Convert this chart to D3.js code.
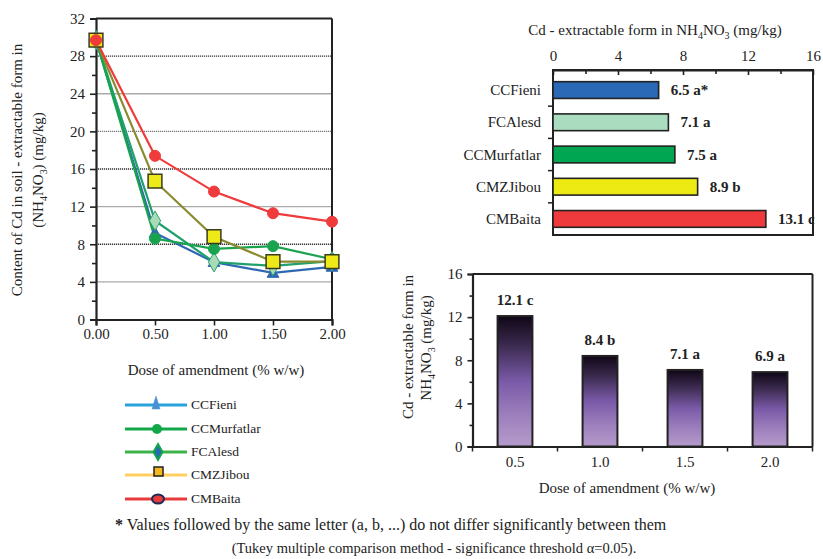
<!DOCTYPE html>
<html><head><meta charset="utf-8">
<script src="https://cdn.jsdelivr.net/npm/d3@7"></script>
<style>body{margin:0;background:#fff}svg, svg text{font-family:"Liberation Serif","DejaVu Serif","Times New Roman",serif !important}</style>
</head><body><svg id="c" width="823" height="559"></svg>
<script>
// ---- data ----
const doses = [0, 0.5, 1.0, 1.5, 2.0];
const doseTicks = ["0.00","0.50","1.00","1.50","2.00"];
const CCFieni = [29.7, 9.2, 6.1, 4.95, 5.6];
const FCAlesd = [29.7, 10.5, 6.1, 5.7, 6.2];
const CCMurfatlar = [29.7, 8.6, 7.5, 7.8, 6.4];
const CMZJibou = [29.7, 14.7, 8.8, 6.15, 6.15];
const CMBaita = [29.7, 17.4, 13.6, 11.3, 10.4];
const lineTicks = [0,4,8,12,16,20,24,28,32];

const hCats = ["CCFieni","FCAlesd","CCMurfatlar","CMZJibou","CMBaita"];
const hVals = [6.5, 7.1, 7.5, 8.9, 13.1];
const hLabels = ["6.5 a*","7.1 a","7.5 a","8.9 b","13.1 c"];
const hTicks = [0,4,8,12,16];

const vCats = ["0.5","1.0","1.5","2.0"];
const vVals = [12.1, 8.4, 7.1, 6.9];
const vLabels = ["12.1 c","8.4 b","7.1 a","6.9 a"];
const vTicks = [0,4,8,12,16];

const legendNames = ["CCFieni","CCMurfatlar","FCAlesd","CMZJibou","CMBaita"];

const FONT = '"Liberation Serif","DejaVu Serif","Times New Roman",serif';
const svg = d3.select("#c");

// ================= LEFT LINE CHART =================
const L = {x0:96, x1:332, y0:319.5, y1:18.5};
const lx = d3.scaleLinear().domain([0,2]).range([L.x0,L.x1]);
const ly = d3.scaleLinear().domain([0,32]).range([L.y0,L.y1]);

const gridStyles = {4:"#aaa",8:"#333",12:"#aaa",16:"#333",20:"#777",24:"#aaa",28:"#333"};
svg.append("g").selectAll("line").data(lineTicks.filter(t=>t>0&&t<32)).join("line")
  .attr("x1",L.x0).attr("x2",L.x1).attr("y1",d=>ly(d)).attr("y2",d=>ly(d))
  .attr("stroke",d=>gridStyles[d]).attr("stroke-width",1.3)
  .attr("stroke-dasharray",d=>gridStyles[d]==="#aaa"?null:"1.2,0.8");

svg.append("line").attr("x1",L.x0).attr("x2",L.x1).attr("y1",L.y1).attr("y2",L.y1).attr("stroke","#222").attr("stroke-width",2);
svg.append("line").attr("x1",L.x1).attr("x2",L.x1).attr("y1",L.y1).attr("y2",L.y0).attr("stroke","#222").attr("stroke-width",2);

svg.append("g").attr("transform",`translate(${L.x0},0)`)
  .call(d3.axisLeft(ly).tickValues(lineTicks).tickSize(6).tickPadding(5).tickFormat(d3.format("d")));
svg.append("g").attr("transform",`translate(${L.x0},0)`)
  .call(d3.axisLeft(ly).tickValues(d3.range(2,32,4)).tickSize(4).tickFormat(""))
  .call(g=>g.select(".domain").remove());
svg.append("g").attr("transform",`translate(0,${L.y0})`)
  .call(d3.axisBottom(lx).tickValues(doses).tickSize(6).tickPadding(3).tickFormat((d,i)=>doseTicks[i]));

const series = [
  {v:CCFieni, line:"#2f68b2", marker:"tri", fill:"#2f68b2", stroke:"#2f68b2"},
  {v:FCAlesd, line:"#1fa06c", marker:"diamond", fill:"#a9dbb8", stroke:"#2fa070"},
  {v:CCMurfatlar, line:"#19a34e", marker:"circle", fill:"#19a34e", stroke:"#19a34e"},
  {v:CMZJibou, line:"#8a8a30", marker:"square", fill:"#eeea18", stroke:"#3a3a20"},
  {v:CMBaita, line:"#ef3b3b", marker:"circle", fill:"#ef3b3b", stroke:"#ef3b3b"}
];
const lineGen = d3.line().x((d,i)=>lx(doses[i])).y(d=>ly(d));
const sym = {tri:d3.symbol(d3.symbolTriangle,60), diamond:d3.symbol(d3.symbolDiamond,110), circle:d3.symbol(d3.symbolCircle,95), square:d3.symbol(d3.symbolSquare,190)};
series.forEach(s=>{
  svg.append("path").attr("d",lineGen(s.v)).attr("fill","none").attr("stroke",s.line).attr("stroke-width",2.2);
});
series.forEach(s=>{
  svg.append("g").selectAll("path").data(s.v).join("path")
    .attr("transform",(d,i)=>`translate(${lx(doses[i])},${ly(d)+(s.marker==="tri"?1:0)})`)
    .attr("d",sym[s.marker]()).attr("fill",s.fill).attr("stroke",s.stroke).attr("stroke-width",s.marker==="square"?1.5:1);
});

const yt = svg.append("text").attr("transform","translate(22,170) rotate(-90)").attr("text-anchor","middle").attr("font-size",15).attr("fill","#222");
yt.append("tspan").text("Content of Cd in soil - extractable form in");
const yt2 = svg.append("text").attr("transform","translate(43,170) rotate(-90)").attr("text-anchor","middle").attr("font-size",15).attr("fill","#222");
yt2.append("tspan").text("(NH");
yt2.append("tspan").attr("font-size",10).attr("dy",4).text("4");
yt2.append("tspan").attr("dy",-4).text("NO");
yt2.append("tspan").attr("font-size",10).attr("dy",4).text("3");
yt2.append("tspan").attr("dy",-4).text(") (mg/kg)");
svg.append("text").attr("x",216).attr("y",375).attr("text-anchor","middle").attr("font-size",15).attr("fill","#222").text("Dose of amendment (% w/w)");

// legend
const legStyles = [
  {line:"#29a3dd", marker:"tri", fill:"#4a90d0", stroke:"#4a90d0"},
  {line:"#12a84a", marker:"circle", fill:"#12a84a", stroke:"#12a84a"},
  {line:"#3cb44a", marker:"diamond", fill:"#2a6ab0", stroke:"#12a84a"},
  {line:"#ffd060", marker:"square", fill:"#f5b820", stroke:"#222"},
  {line:"#e83a3a", marker:"ellipse", fill:"#e83a3a", stroke:"#1a2a5a"}
];
const legY = [405, 429, 452, 475, 499];
const leg = svg.append("g");
legendNames.forEach((n,i)=>{
  const s = legStyles[i], y = legY[i];
  leg.append("line").attr("x1",125).attr("x2",187).attr("y1",y).attr("y2",y).attr("stroke",s.line).attr("stroke-width",3);
  if (s.marker==="ellipse") {
    leg.append("ellipse").attr("cx",158).attr("cy",y).attr("rx",6).attr("ry",4.5).attr("fill",s.fill).attr("stroke",s.stroke).attr("stroke-width",2);
  } else if (s.marker==="diamond") {
    leg.append("path").attr("d","M0,-8L4.5,0L0,8L-4.5,0Z").attr("transform",`translate(158,${y})`).attr("fill",s.fill).attr("stroke",s.stroke).attr("stroke-width",2);
  } else if (s.marker==="tri") {
    leg.append("path").attr("d","M0,-8L4,5L-4,5Z").attr("transform",`translate(156,${y-1})`).attr("fill",s.fill).attr("stroke",s.stroke).attr("stroke-width",0.5);
  } else if (s.marker==="square") {
    leg.append("rect").attr("x",154).attr("y",y-8).attr("width",9).attr("height",9).attr("fill",s.fill).attr("stroke",s.stroke).attr("stroke-width",1.5);
  } else {
    leg.append("circle").attr("cx",157).attr("cy",y).attr("r",5).attr("fill",s.fill);
  }
  leg.append("text").attr("x",191).attr("y",y+4).attr("font-size",13.5).attr("fill","#222").text(n);
});

// ================= TOP RIGHT HORIZONTAL BAR =================
const H = {x0:553, x1:813, y0:70, y1:235};
const hx = d3.scaleLinear().domain([0,16]).range([H.x0,H.x1]);
const hy = d3.scaleBand().domain(hCats).range([73,236]).paddingInner(0.48).paddingOuter(0.27);
const hColors = ["#2b68b6","#aadcc0","#00a651","#ecea12","#ee3a3c"];

const gh = svg.append("g");
gh.append("rect").attr("x",H.x0).attr("y",H.y0).attr("width",H.x1-H.x0).attr("height",H.y1-H.y0).attr("fill","none").attr("stroke","#222").attr("stroke-width",2);
gh.selectAll("rect.bar").data(hVals).join("rect").attr("class","bar")
  .attr("x",H.x0).attr("y",(d,i)=>hy(hCats[i])).attr("width",d=>hx(d)-H.x0).attr("height",hy.bandwidth())
  .attr("fill",(d,i)=>hColors[i]).attr("stroke","#222").attr("stroke-width",1.6);
gh.selectAll("text.val").data(hVals).join("text").attr("class","val")
  .attr("x",d=>hx(d)+12).attr("y",(d,i)=>hy(hCats[i])+hy.bandwidth()/2+5)
  .attr("font-size",15).attr("font-weight","bold").attr("fill","#222").attr("font-family",FONT).text((d,i)=>hLabels[i])
  .each(function(d){
    const w = this.getComputedTextLength();
    const x = Math.min(hx(d)+12, H.x1+3-w);
    d3.select(this).attr("x", Math.max(x, hx(d)+3));
  });
svg.append("g").attr("transform",`translate(0,${H.y0})`)
  .call(d3.axisTop(hx).tickValues(hTicks).tickSizeInner(-5).tickSizeOuter(0).tickPadding(9).tickFormat(d3.format("d")));
svg.append("g").attr("transform",`translate(0,${H.y0})`)
  .call(d3.axisTop(hx).tickValues([2,6,10,14]).tickSizeInner(-4).tickSizeOuter(0).tickFormat(""))
  .call(g=>g.select(".domain").remove());
gh.selectAll("text.cat").data(hCats).join("text").attr("class","cat")
  .attr("x",541).attr("y",d=>hy(d)+hy.bandwidth()/2+5).attr("text-anchor","end")
  .attr("font-size",15).attr("fill","#222").text(d=>d);
const bnds = hCats.slice(1).map(c=>hy(c)-hy.step()*hy.paddingInner()/2);
gh.selectAll("line.bt").data(bnds).join("line").attr("class","bt")
  .attr("x1",H.x0-5).attr("x2",H.x0).attr("y1",d=>d).attr("y2",d=>d).attr("stroke","#222").attr("stroke-width",1.5);
const ht = svg.append("text").attr("x",655).attr("y",35).attr("text-anchor","middle").attr("font-size",15).attr("fill","#222");
ht.append("tspan").text("Cd - extractable form in NH");
ht.append("tspan").attr("font-size",10).attr("dy",4).text("4");
ht.append("tspan").attr("dy",-4).text("NO");
ht.append("tspan").attr("font-size",10).attr("dy",4).text("3");
ht.append("tspan").attr("dy",-4).text(" (mg/kg)");

// ================= BOTTOM RIGHT VERTICAL BAR =================
const V = {x0:472.5, x1:812.5, y0:446.5, y1:274};
const vx = d3.scaleBand().domain(vCats).range([V.x0,V.x1]).paddingInner(0.59).paddingOuter(0.295);
const vy = d3.scaleLinear().domain([0,16]).range([V.y0,V.y1]);
const defs = svg.append("defs");
const grad = defs.append("linearGradient").attr("id","pg").attr("x1",0).attr("x2",0).attr("y1",0).attr("y2",1);
[[0,"#100616"],[0.22,"#3a2a4e"],[0.5,"#7a5aa8"],[0.75,"#9c7ebc"],[1,"#b59bca"]].forEach(s=>grad.append("stop").attr("offset",s[0]).attr("stop-color",s[1]));

const gv = svg.append("g");
gv.append("line").attr("x1",V.x0).attr("x2",V.x1).attr("y1",V.y1).attr("y2",V.y1).attr("stroke","#222").attr("stroke-width",2);
gv.append("line").attr("x1",V.x1).attr("x2",V.x1).attr("y1",V.y1).attr("y2",V.y0).attr("stroke","#222").attr("stroke-width",2);
gv.selectAll("rect").data(vVals).join("rect")
  .attr("x",(d,i)=>vx(vCats[i])).attr("y",d=>vy(d)).attr("width",vx.bandwidth()).attr("height",d=>V.y0-vy(d))
  .attr("fill","url(#pg)").attr("stroke","#222").attr("stroke-width",2);
gv.selectAll("text.val").data(vVals).join("text").attr("class","val")
  .attr("x",(d,i)=>vx(vCats[i])+vx.bandwidth()/2).attr("y",d=>vy(d)-11).attr("text-anchor","middle")
  .attr("font-size",15).attr("font-weight","bold").attr("fill","#222").text((d,i)=>vLabels[i]);
svg.append("g").attr("transform",`translate(${V.x0},0)`)
  .call(d3.axisLeft(vy).tickValues(vTicks).tickSize(5).tickPadding(5).tickFormat(d3.format("d")));
svg.append("g").attr("transform",`translate(${V.x0},0)`)
  .call(d3.axisLeft(vy).tickValues([2,6,10,14]).tickSize(3).tickFormat(""))
  .call(g=>g.select(".domain").remove());
svg.append("g").attr("transform",`translate(0,${V.y0})`)
  .call(d3.axisBottom(vx).tickSize(0).tickPadding(10));
const vb = d3.range(vCats.length+1).map(i=>V.x0+i*vx.step());
svg.append("g").selectAll("line").data(vb).join("line")
  .attr("x1",d=>d).attr("x2",d=>d).attr("y1",V.y0).attr("y2",V.y0+5).attr("stroke","#222").attr("stroke-width",1.5);
svg.append("text").attr("transform","translate(413,347) rotate(-90)").attr("text-anchor","middle").attr("font-size",15).attr("fill","#222").text("Cd - extractable form in");
const vt2 = svg.append("text").attr("transform","translate(431,348) rotate(-90)").attr("text-anchor","middle").attr("font-size",15).attr("fill","#222");
vt2.append("tspan").text("NH");
vt2.append("tspan").attr("font-size",10).attr("dy",4).text("4");
vt2.append("tspan").attr("dy",-4).text("NO");
vt2.append("tspan").attr("font-size",10).attr("dy",4).text("3");
vt2.append("tspan").attr("dy",-4).text(" (mg/kg)");
svg.append("text").attr("x",627).attr("y",493).attr("text-anchor","middle").attr("font-size",15).attr("fill","#222").text("Dose of amendment (% w/w)");

svg.selectAll(".domain").attr("stroke","#222").attr("stroke-width",2.2);
svg.selectAll(".tick line").attr("stroke","#222").attr("stroke-width",1.6);
svg.selectAll(".tick text").attr("font-size",15).attr("fill","#222");

// footnote
const fn = svg.append("text").attr("x",115).attr("y",530).attr("font-size",16).attr("fill","#222");
fn.append("tspan").attr("font-weight","bold").text("*");
fn.append("tspan").text(" Values followed by the same letter (a, b, ...) do not differ significantly between them");
svg.append("text").attr("x",434).attr("y",553).attr("text-anchor","middle").attr("font-size",14.5).attr("fill","#222")
  .text("(Tukey multiple comparison method - significance threshold  \u03b1=0.05).");

// force font on all text
svg.selectAll("text").attr("font-family",FONT).style("font-family",FONT);
svg.selectAll("g").attr("font-family",FONT);
</script></body></html>
